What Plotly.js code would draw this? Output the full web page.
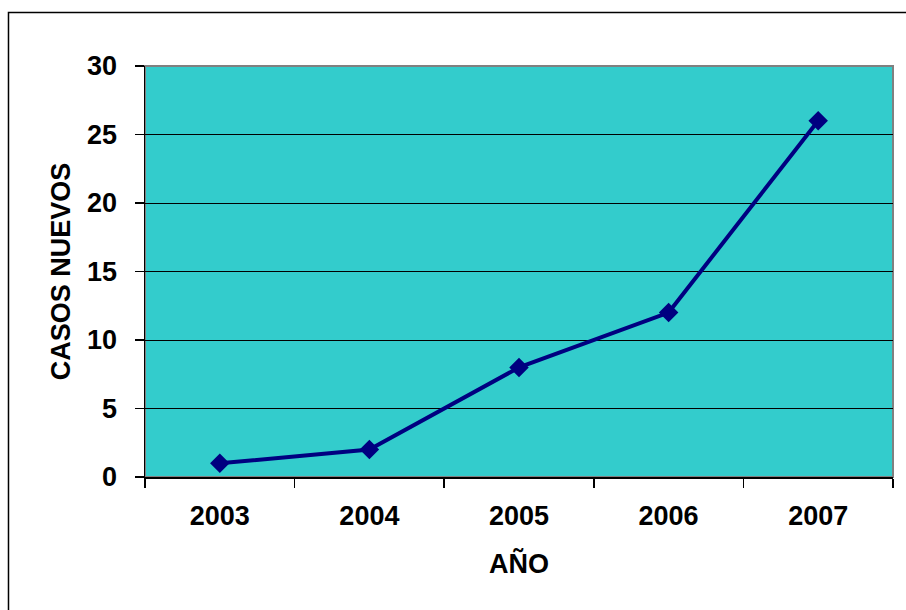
<!DOCTYPE html>
<html>
<head>
<meta charset="utf-8">
<script src="https://cdn.plot.ly/plotly-3.0.1.min.js"></script>
<style>html,body{margin:0;padding:0;background:#fff;}#chart{width:906px;height:610px;}</style>
</head>
<body>
<div id="chart"></div>
<script>
const years = ['2003', '2004', '2005', '2006', '2007'];
const casosNuevos = [1, 2, 8, 12, 26];
const yTicks = [0, 5, 10, 15, 20, 25, 30];

const font = {family: 'Liberation Sans, Arial, sans-serif', color: '#000', size: 27};

const trace = {
  x: years,
  y: casosNuevos,
  type: 'scatter',
  mode: 'lines+markers',
  line: {color: '#000080', width: 4},
  marker: {symbol: 'diamond', size: 15, color: '#000080'},
  hoverinfo: 'x+y'
};

const layout = {
  width: 906, height: 610,
  margin: {l: 145, r: 13, t: 66, b: 133},
  paper_bgcolor: '#ffffff',
  plot_bgcolor: '#33CCCC',
  showlegend: false,
  font: font,
  xaxis: {
    type: 'category',
    range: [-0.5, 4.5],
    tickson: 'boundaries',
    ticks: 'outside', ticklen: 9, tickwidth: 1.5, tickcolor: '#000',
    showline: true, linecolor: '#000', linewidth: 1.5,
    showgrid: false, zeroline: false,
    tickfont: {family: font.family, size: 27, color: '#000', weight: 'bold'},
    ticklabelstandoff: 14,
    title: {text: '<b>AÑO</b>', font: {family: font.family, size: 27, color: '#000'}, standoff: 24}
  },
  yaxis: {
    range: [0, 30],
    tickvals: yTicks,
    ticks: 'outside', ticklen: 9, tickwidth: 1.5, tickcolor: '#000',
    showline: true, linecolor: '#000', linewidth: 1.5,
    showgrid: true, gridcolor: '#000', gridwidth: 1,
    zeroline: false,
    tickfont: {family: font.family, size: 27, color: '#000', weight: 'bold'},
    ticklabelstandoff: 12,
    title: {text: '<b>CASOS NUEVOS</b>', font: {family: font.family, size: 27, color: '#000'}, standoff: 8}
  },
  shapes: [
    {type: 'rect', xref: 'paper', yref: 'paper', x0: 0, x1: 1, y0: 0, y1: 1,
     line: {color: '#808080', width: 2}, layer: 'below'},
    {type: 'rect', xref: 'paper', yref: 'paper', x0: -0.1825, x1: 1.03, y0: -0.35, y1: 1.13,
     line: {color: '#000', width: 1.5}, layer: 'above'}
  ]
};

Plotly.newPlot('chart', [trace], layout, {displayModeBar: false, staticPlot: true});
</script>
</body>
</html>
